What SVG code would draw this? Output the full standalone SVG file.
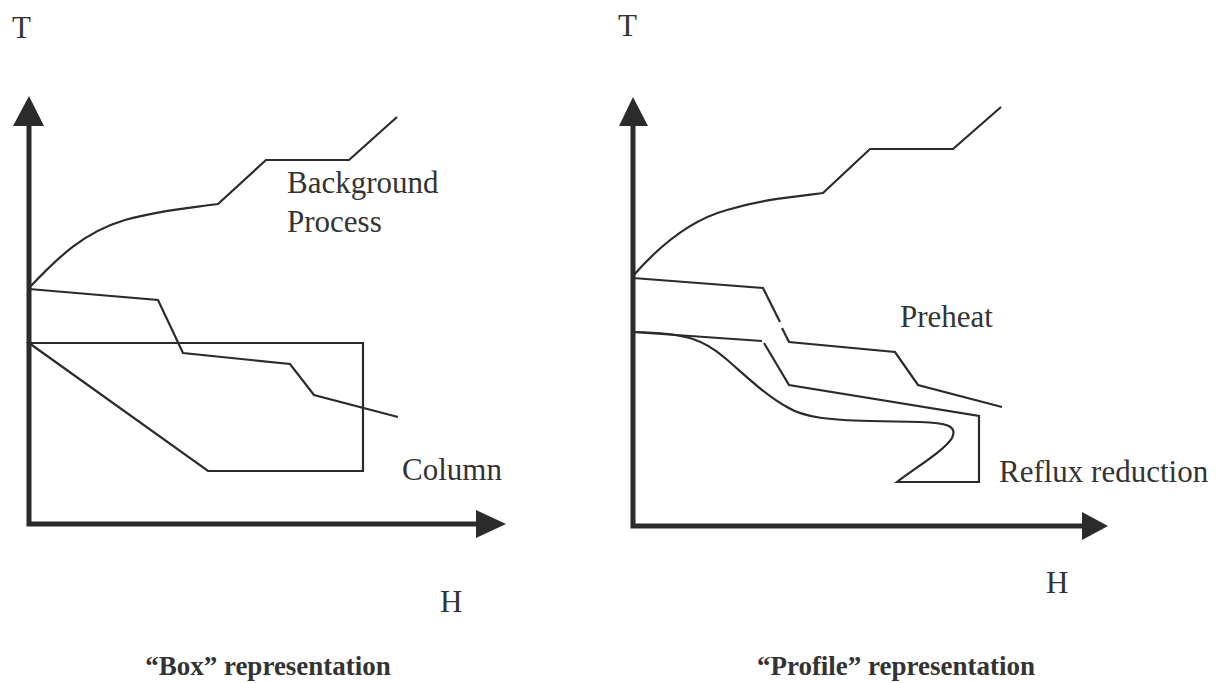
<svg xmlns="http://www.w3.org/2000/svg" width="1218" height="683" viewBox="0 0 1218 683">
<style>
.ax{stroke:#2b2b2b;stroke-width:5;fill:none}
.ah{fill:#2b2b2b;stroke:none}
.ln{stroke:#2b2b2b;stroke-width:2.2;fill:none;stroke-linejoin:miter}
.lb{font-family:"Liberation Serif","Times New Roman",serif;font-size:31px;fill:#333}
.cap{font-family:"Liberation Serif","Times New Roman",serif;font-size:27px;font-weight:bold;fill:#333;text-anchor:middle}
</style>
<rect width="1218" height="683" fill="#fff"/>
<g id="left-plot">
  <g id="left-axes">
    <path class="ax" d="M29,122 L29,524 L480,524"/>
    <polygon class="ah" points="29,96 13,126 44,126"/>
    <polygon class="ah" points="506,524 476,510 476,538"/>
    <text class="lb" x="12" y="38">T</text>
    <text class="lb" x="440" y="612">H</text>
  </g>
  <g id="left-background">
    <path class="ln" d="M29,288 C60,255 85,232 125,220 C160,210 190,208 218,204 L266,160 L349,160 L397,117"/>
    <path class="ln" d="M29,289 L158,300 L183,353 L290,364 L314,395 L398,417"/>
    <text class="lb" x="287" y="193">Background</text>
    <text class="lb" x="287" y="232">Process</text>
  </g>
  <g id="left-column">
    <polygon class="ln" points="29,343 363,343 363,471 208,471"/>
    <text class="lb" x="402" y="480">Column</text>
  </g>
  <text class="cap" x="268" y="675">“Box” representation</text>
</g>
<g id="right-plot">
  <g id="right-axes">
    <path class="ax" d="M633,122 L633,526 L1086,526"/>
    <polygon class="ah" points="633,97 619,126 648,126"/>
    <polygon class="ah" points="1108,526 1082,512 1082,540"/>
    <text class="lb" x="618" y="36">T</text>
    <text class="lb" x="1046" y="593">H</text>
  </g>
  <g id="right-background">
    <path class="ln" d="M633,276 C660,245 690,220 727,210 C760,200 790,197 823,193 L870,149 L953,149 L1001,107"/>
    <path class="ln" d="M633,278 L763,288 L780,322"/>
    <path class="ln" d="M782,328 L789,342 L895,352 L918,385 L1002,407"/>
    <text class="lb" x="900" y="327">Preheat</text>
  </g>
  <g id="right-profile">
    <path class="ln" d="M633,332 L762,341"/>
    <path class="ln" d="M764,343 L789,385 L979,416 L979,482 L897,482 C915,468 945,450 952,438 C958,425 945,423 920,422 L870,421 C830,420 805,418 787,407 C765,395 745,375 725,358 C705,341 690,333 633,332"/>
    <text class="lb" x="999" y="482">Reflux reduction</text>
  </g>
  <text class="cap" x="896" y="675">“Profile” representation</text>
</g>
</svg>
